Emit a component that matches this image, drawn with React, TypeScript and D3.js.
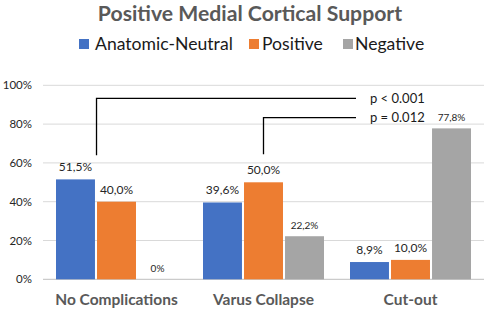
import React from "react";
import * as d3 from "d3";

const categories = ["No Complications", "Varus Collapse", "Cut-out"];
const series = ["Anatomic-Neutral", "Positive", "Negative"];
const colors = ["#4472C4", "#ED7D31", "#A5A5A5"];
const anatomicNeutral = [0.515, 0.396, 0.089];
const positive = [0.4, 0.5, 0.1];
const negative = [0.0, 0.222, 0.778];
const valueLabels = [
  ["51,5%", "39,6%", "8,9%"],
  ["40,0%", "50,0%", "10,0%"],
  ["0%", "22,2%", "77,8%"],
];
const smallLabel = [
  [false, false, false],
  [false, false, false],
  [true, true, true],
];
const yTicks = [0, 0.2, 0.4, 0.6, 0.8, 1.0];
const yTickLabels = ["0%", "20%", "40%", "60%", "80%", "100%"];
const title = "Positive Medial Cortical Support";
const bracketLabels = ["p < 0.001", "p = 0.012"];
const bracketTop = [0.933, 0.833];
const bracketBottom = [0.64, 0.644];

export default function App() {
  const W = 489;
  const H = 313;
  const left = 43;
  const right = 484;
  const yScale = d3.scaleLinear().domain([0, 1]).range([279.3, 85.3]);
  const x0 = d3.scaleBand<string>().domain(categories).range([left, right]);
  const x1 = d3
    .scaleBand<string>()
    .domain(series)
    .range([13, x0.bandwidth() - 13])
    .paddingInner(0.05);
  const data = [anatomicNeutral, positive, negative];
  const font = "Lato, 'Open Sans', sans-serif";

  const b1x = (x0(categories[0]) ?? 0) + (x1(series[1]) ?? 0) - 0.5;
  const b2x = (x0(categories[1]) ?? 0) + (x1(series[1]) ?? 0) + x1.bandwidth() / 2;
  const bracketXs = [b1x, b2x];
  const bracketEnd = 356;

  const legendItems = [
    { x: 79, tx: 95 },
    { x: 249, tx: 262 },
    { x: 343, tx: 355 },
  ];

  return (
    <svg width={W} height={H} style={{ position: "absolute", left: 0, top: 0, background: "#fff" }} fontFamily={font}>
      <rect width={W} height={H} fill="#fff" />
      <text x={250} y={21} textAnchor="middle" fontSize={21.2} fontWeight="bold" fill="#595959">
        {title}
      </text>
      {series.map((s, i) => (
        <g key={s}>
          <rect x={legendItems[i].x} y={39} width={10} height={10} fill={colors[i]} />
          <text x={legendItems[i].tx} y={50} fontSize={17.6} fill="#1a1a1a">
            {s}
          </text>
        </g>
      ))}
      {yTicks.map((t, i) => (
        <g key={t}>
          <line
            x1={left}
            x2={right}
            y1={yScale(t)}
            y2={yScale(t)}
            stroke={t === 0 ? "#BFBFBF" : "#D9D9D9"}
            strokeWidth={1}
          />
          <text x={32} y={yScale(t) + 4} textAnchor="end" fontSize={11.5} fill="#262626">
            {yTickLabels[i]}
          </text>
        </g>
      ))}
      {categories.map((c, ci) => (
        <g key={c} transform={`translate(${x0(c)},0)`}>
          {series.map((s, si) => {
            const v = data[si][ci];
            const bx = x1(s) ?? 0;
            const small = smallLabel[si][ci];
            return (
              <g key={s}>
                {v > 0 && (
                  <rect x={bx} y={yScale(v)} width={x1.bandwidth()} height={yScale(0) - yScale(v)} fill={colors[si]} />
                )}
                <text
                  x={bx + x1.bandwidth() / 2}
                  y={yScale(v) - (small ? 7.5 : 8)}
                  textAnchor="middle"
                  fontSize={small ? 10 : 12}
                  fill="#262626"
                >
                  {valueLabels[si][ci]}
                </text>
              </g>
            );
          })}
          <text x={x0.bandwidth() / 2} y={305} textAnchor="middle" fontSize={15.5} fontWeight="bold" fill="#595959">
            {c}
          </text>
        </g>
      ))}
      {bracketLabels.map((lbl, i) => (
        <g key={lbl}>
          <path
            d={`M${bracketXs[i]},${yScale(bracketBottom[i])}V${yScale(bracketTop[i])}H${bracketEnd}`}
            fill="none"
            stroke="#000"
            strokeWidth={1.3}
          />
          <text x={370} y={yScale(bracketTop[i]) + 4.5} fontSize={13} fill="#1a1a1a">
            {lbl}
          </text>
        </g>
      ))}
    </svg>
  );
}
